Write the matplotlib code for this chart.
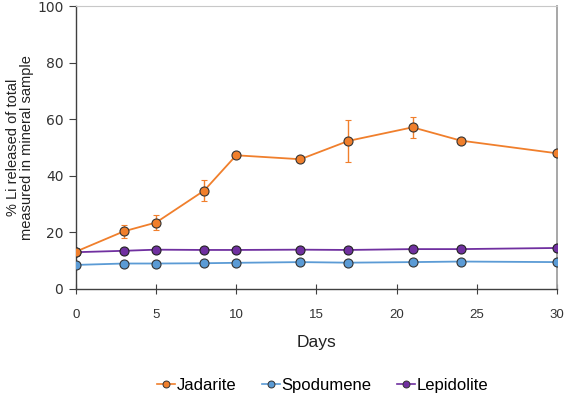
import numpy as np
import matplotlib
matplotlib.use("Agg")
import matplotlib.pyplot as plt
from matplotlib.lines import Line2D

plt.rcParams['font.family'] = ['Liberation Sans', 'DejaVu Sans']

days = [0, 3, 5, 8, 10, 14, 17, 21, 24, 30]
jadarite = [13.2, 20.4, 23.5, 34.8, 47.3, 45.9, 52.4, 57.2, 52.5, 48.0]
jadarite_err = [0, 2.3, 2.7, 3.7, 0, 0, 7.3, 3.8, 0, 0]
spodumene = [8.5, 9.0, 9.0, 9.1, 9.25, 9.5, 9.3, 9.5, 9.7, 9.5]
lepidolite = [13.0, 13.5, 13.9, 13.8, 13.8, 13.9, 13.8, 14.1, 14.1, 14.5]

c_jad, c_spo, c_lep = "#f07f2c", "#5b9bd5", "#7030a0"

fig = plt.figure(figsize=(5.66, 3.98), dpi=100)
ax = fig.add_axes([0.134, 0.274, 0.85, 0.71])

ms = 6.5
ax.plot(days, spodumene, color=c_spo, lw=1.3, marker="o", ms=ms,
        mfc=c_spo, mec="#333333", mew=0.8, zorder=3)
ax.plot(days, lepidolite, color=c_lep, lw=1.3, marker="o", ms=ms,
        mfc=c_lep, mec="#222222", mew=0.8, zorder=3)
ax.errorbar(days, jadarite, yerr=jadarite_err, color=c_jad, lw=1.3,
            marker="o", ms=ms, mfc=c_jad, mec="#333333", mew=0.8,
            elinewidth=1.0, capsize=2, capthick=1.0, zorder=4)

ax.set_xlim(0, 30)
ax.set_ylim(0, 100)
ax.set_xticks(range(0, 31, 5))
ax.set_yticks(range(0, 101, 20))

for s in ["left", "bottom"]:
    ax.spines[s].set_color("#404040")
    ax.spines[s].set_linewidth(1.0)
ax.spines["top"].set_color("#c8c8c8")
ax.spines["top"].set_linewidth(0.8)
ax.spines["right"].set_color("#a0a0a0")
ax.spines["right"].set_linewidth(1.3)

ax.tick_params(axis="y", direction="out", length=5, color="#404040",
               labelsize=10, labelcolor="#333333", pad=4)
ax.tick_params(axis="x", direction="inout", length=7, color="#404040",
               labelsize=9.5, labelcolor="#333333", pad=11)
for lbl in ax.get_yticklabels():
    lbl.set_family("DejaVu Sans")

ax.set_xlabel("Days", fontsize=12.5, color="#222222", labelpad=10)
ax.set_ylabel("% Li released of total\nmeasured in mineral sample",
              fontsize=10.5, color="#222222", labelpad=2, linespacing=1.0)

names = ["Jadarite", "Spodumene", "Lepidolite"]
colors = [c_jad, c_spo, c_lep]
handles = [Line2D([], [], color=c, lw=1.2, marker="o", ms=5, mfc=c,
                  mec="#333333", mew=0.7) for c in colors]
fig.legend(handles, names, loc="center", bbox_to_anchor=(0.57, 0.032),
           ncol=3, frameon=False, fontsize=12, handlelength=1.1,
           handletextpad=0.1, columnspacing=1.5)

fig.savefig("out.png", dpi=100)
